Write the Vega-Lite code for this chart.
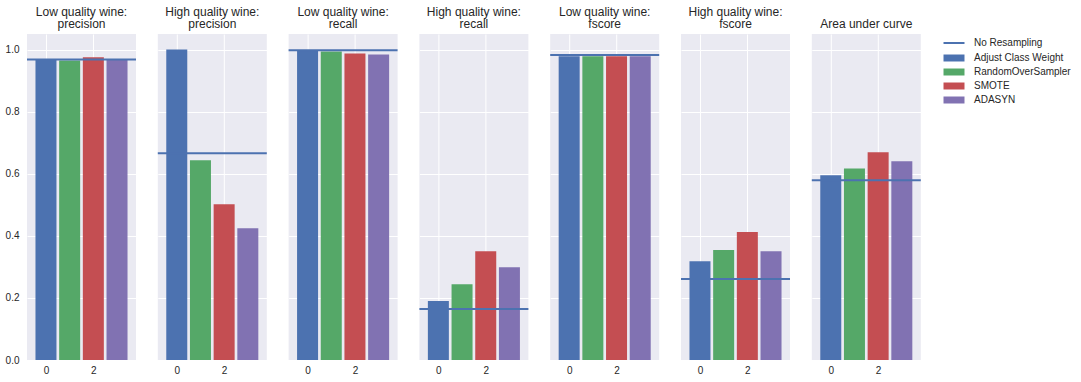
{
  "$schema": "https://vega.github.io/schema/vega-lite/v6.json",
  "autosize": {"type": "pad"},
  "padding": {"left": 5, "top": 5, "right": 0, "bottom": 0},
  "background": "white",
  "bounds": "flush",
  "config": {
    "font": "Liberation Sans",
    "view": {"fill": "#EAEAF2", "stroke": null},
    "axis": {"labelFont": "Liberation Sans", "labelFontSize": 10, "labelColor": "#262626", "gridColor": "white", "gridWidth": 1, "domain": false, "ticks": false, "title": null}
  },
  "data": {"values": [
    {"panel": "Low quality wine:|precision", "method": "Adjust Class Weight", "idx": 0, "value": 0.966},
    {"panel": "Low quality wine:|precision", "method": "RandomOverSampler", "idx": 1, "value": 0.965},
    {"panel": "Low quality wine:|precision", "method": "SMOTE", "idx": 2, "value": 0.975},
    {"panel": "Low quality wine:|precision", "method": "ADASYN", "idx": 3, "value": 0.966},
    {"panel": "Low quality wine:|precision", "method": "No Resampling", "idx": null, "value": 0.968},
    {"panel": "High quality wine:|precision", "method": "Adjust Class Weight", "idx": 0, "value": 1.0},
    {"panel": "High quality wine:|precision", "method": "RandomOverSampler", "idx": 1, "value": 0.643},
    {"panel": "High quality wine:|precision", "method": "SMOTE", "idx": 2, "value": 0.502},
    {"panel": "High quality wine:|precision", "method": "ADASYN", "idx": 3, "value": 0.424},
    {"panel": "High quality wine:|precision", "method": "No Resampling", "idx": null, "value": 0.666},
    {"panel": "Low quality wine:|recall", "method": "Adjust Class Weight", "idx": 0, "value": 0.998},
    {"panel": "Low quality wine:|recall", "method": "RandomOverSampler", "idx": 1, "value": 0.994},
    {"panel": "Low quality wine:|recall", "method": "SMOTE", "idx": 2, "value": 0.987},
    {"panel": "Low quality wine:|recall", "method": "ADASYN", "idx": 3, "value": 0.984},
    {"panel": "Low quality wine:|recall", "method": "No Resampling", "idx": null, "value": 0.998},
    {"panel": "High quality wine:|recall", "method": "Adjust Class Weight", "idx": 0, "value": 0.19},
    {"panel": "High quality wine:|recall", "method": "RandomOverSampler", "idx": 1, "value": 0.244},
    {"panel": "High quality wine:|recall", "method": "SMOTE", "idx": 2, "value": 0.35},
    {"panel": "High quality wine:|recall", "method": "ADASYN", "idx": 3, "value": 0.299},
    {"panel": "High quality wine:|recall", "method": "No Resampling", "idx": null, "value": 0.164},
    {"panel": "Low quality wine:|fscore", "method": "Adjust Class Weight", "idx": 0, "value": 0.978},
    {"panel": "Low quality wine:|fscore", "method": "RandomOverSampler", "idx": 1, "value": 0.978},
    {"panel": "Low quality wine:|fscore", "method": "SMOTE", "idx": 2, "value": 0.978},
    {"panel": "Low quality wine:|fscore", "method": "ADASYN", "idx": 3, "value": 0.978},
    {"panel": "Low quality wine:|fscore", "method": "No Resampling", "idx": null, "value": 0.982},
    {"panel": "High quality wine:|fscore", "method": "Adjust Class Weight", "idx": 0, "value": 0.318},
    {"panel": "High quality wine:|fscore", "method": "RandomOverSampler", "idx": 1, "value": 0.354},
    {"panel": "High quality wine:|fscore", "method": "SMOTE", "idx": 2, "value": 0.412},
    {"panel": "High quality wine:|fscore", "method": "ADASYN", "idx": 3, "value": 0.35},
    {"panel": "High quality wine:|fscore", "method": "No Resampling", "idx": null, "value": 0.261},
    {"panel": "Area under curve", "method": "Adjust Class Weight", "idx": 0, "value": 0.595},
    {"panel": "Area under curve", "method": "RandomOverSampler", "idx": 1, "value": 0.617},
    {"panel": "Area under curve", "method": "SMOTE", "idx": 2, "value": 0.669},
    {"panel": "Area under curve", "method": "ADASYN", "idx": 3, "value": 0.64},
    {"panel": "Area under curve", "method": "No Resampling", "idx": null, "value": 0.579}
  ]},
  "facet": {
    "column": {
      "field": "panel",
      "type": "nominal",
      "sort": ["Low quality wine:|precision", "High quality wine:|precision", "Low quality wine:|recall", "High quality wine:|recall", "Low quality wine:|fscore", "High quality wine:|fscore", "Area under curve"],
      "header": {
        "title": null,
        "labelExpr": "split(datum.value, '|')",
        "labelFont": "Liberation Sans",
        "labelFontSize": 12,
        "labelColor": "#262626",
        "labelLineHeight": 12.5,
        "labelPadding": 3
      }
    }
  },
  "spacing": {"column": 21.8},
  "spec": {
    "width": 109,
    "height": 326,
    "layer": [
      {
        "transform": [{"filter": "datum.method !== 'No Resampling'"}],
        "mark": {"type": "bar", "size": 21},
        "encoding": {
          "x": {"field": "idx", "type": "quantitative", "scale": {"domain": [-0.59, 3.59], "nice": false, "zero": false},
                "axis": {"values": [0, 2], "format": "d", "labelPadding": 5, "labelAngle": 0}},
          "y": {"field": "value", "type": "quantitative", "scale": {"domain": [0, 1.05], "nice": false},
                "axis": {"values": [0, 0.2, 0.4, 0.6, 0.8, 1.0], "format": ".1f", "labelPadding": 8}},
          "color": {"field": "method", "type": "nominal",
                    "scale": {"domain": ["Adjust Class Weight", "RandomOverSampler", "SMOTE", "ADASYN"], "range": ["#4C72B0", "#55A868", "#C44E52", "#8172B2"]},
                    "legend": {"title": null, "orient": "none", "legendX": 922, "legendY": 19, "padding": 0,
                               "symbolType": "M-3,-1H3V1H-3Z", "symbolSize": 49, "symbolStrokeWidth": 0,
                               "labelOffset": 15, "labelFontSize": 10, "labelColor": "#262626", "labelFont": "Liberation Sans", "rowPadding": 4}}
        }
      },
      {
        "transform": [{"filter": "datum.method === 'No Resampling'"}],
        "mark": {"type": "rule", "strokeWidth": 2},
        "encoding": {
          "y": {"field": "value", "type": "quantitative"},
          "stroke": {"field": "method", "type": "nominal",
                     "scale": {"domain": ["No Resampling"], "range": ["#4C72B0"]},
                     "legend": {"title": null, "orient": "none", "legendX": 922, "legendY": 4, "padding": 0,
                                "symbolType": "M-3,0H3", "symbolSize": 49, "symbolStrokeWidth": 2,
                                "labelOffset": 15, "labelFontSize": 10, "labelColor": "#262626", "labelFont": "Liberation Sans"}}
        }
      }
    ]
  }
}
